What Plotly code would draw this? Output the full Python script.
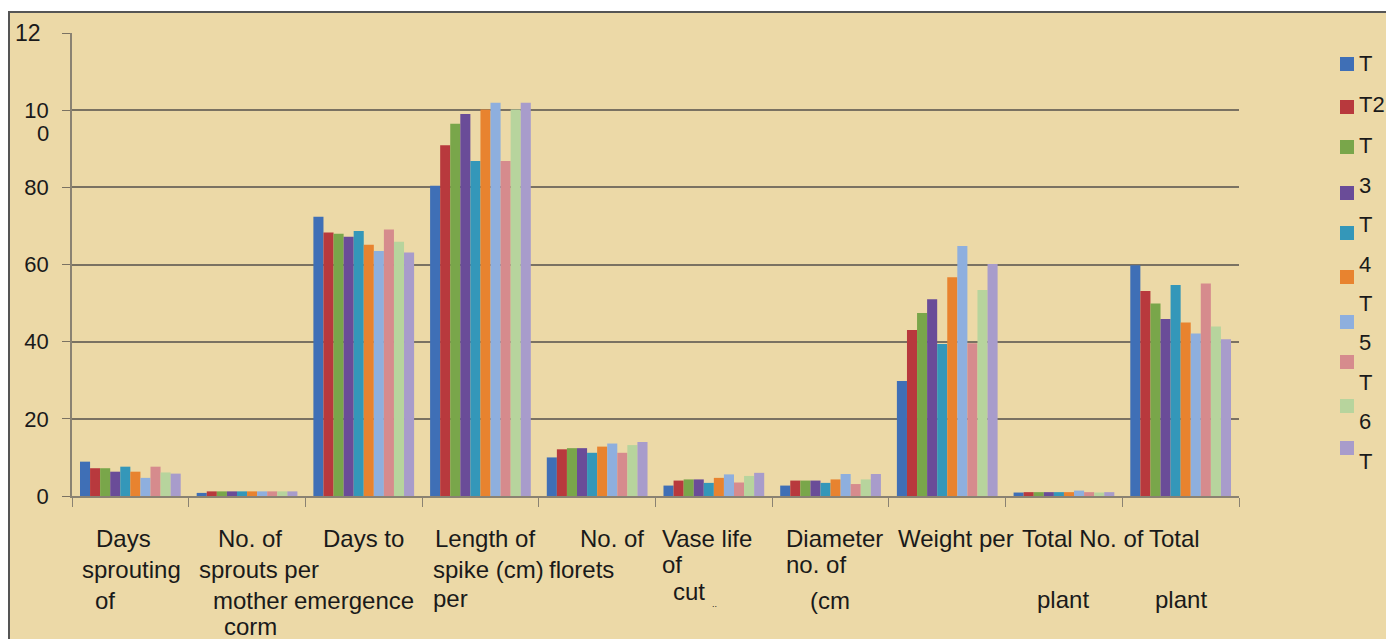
import plotly.graph_objects as go

categories = ["Days sprouting of", "No. of sprouts per mother corm", "Days to emergence",
              "Length of spike (cm) per", "No. of florets", "Vase life of cut",
              "Diameter no. of (cm", "Weight per", "Total No. of plant", "Total plant"]

series_names = ["T1", "T2", "T3", "T4", "T5", "T6", "T7", "T8", "T9", "T10"]
colors = ["#3f6fb6", "#b8393d", "#79a64a", "#6a4c98", "#3497b9", "#e8832f",
          "#8eafde", "#d68b8d", "#b7d49d", "#a89ccb"]

# values[series][category]
T1 = [8.9, 0.8, 72.4, 80.4, 10.0, 2.7, 2.7, 29.8, 0.9, 59.8]
T2 = [7.2, 1.2, 68.3, 90.9, 12.1, 4.0, 4.0, 43.0, 1.0, 53.1]
T3 = [7.2, 1.2, 68.0, 96.5, 12.4, 4.3, 4.0, 47.4, 1.0, 49.9]
T4 = [6.3, 1.2, 67.2, 99.0, 12.4, 4.3, 4.0, 51.0, 1.0, 45.9]
T5 = [7.6, 1.2, 68.7, 86.8, 11.2, 3.4, 3.4, 39.4, 1.0, 54.7]
T6 = [6.3, 1.2, 65.1, 100.2, 12.8, 4.7, 4.3, 56.7, 1.0, 45.0]
T7 = [4.7, 1.2, 63.5, 101.9, 13.6, 5.6, 5.7, 64.8, 1.4, 42.1]
T8 = [7.6, 1.2, 69.1, 86.8, 11.2, 3.5, 3.1, 39.6, 1.0, 55.1]
T9 = [6.1, 1.2, 65.9, 100.2, 13.2, 5.2, 4.3, 53.4, 0.9, 43.9]
T10 = [5.8, 1.2, 63.1, 101.9, 14.0, 6.0, 5.7, 60.1, 1.0, 40.6]
values = [T1, T2, T3, T4, T5, T6, T7, T8, T9, T10]

y_tickvals = [0, 20, 40, 60, 80, 100, 120]
y_ticktext = ["0", "20", "40", "60", "80", "10", ""]

# broken category labels as they appear (text, left px, center px)
x_label_lines = [
    ("Days", 94, 538), ("sprouting", 80, 569), ("of", 93, 600),
    ("No. of", 216, 538), ("sprouts per", 197, 569), ("mother", 211, 600), ("corm", 222, 626),
    ("Days to", 321, 538), ("emergence", 292, 600),
    ("Length of", 433, 538), ("spike (cm)", 431, 569), ("per", 431, 598),
    ("No. of", 578, 538), ("florets", 547, 569),
    ("Vase life", 660, 538), ("of", 660, 564), ("cut", 671, 591),
    ("Diameter", 784, 538), ("no. of", 784, 564), ("(cm", 808, 600),
    ("Weight per", 896, 538),
    ("Total No. of", 1020, 538), ("plant", 1035, 599),
    ("Total", 1147, 538), ("plant", 1153, 599),
]

legend_texts = [("T", 64), ("T2", 104), ("T", 145), ("3", 185), ("T", 224), ("4", 264),
                ("T", 303), ("5", 342), ("T", 382), ("6", 421), ("T", 461)]
legend_marker_y = [64, 107, 147, 193, 233, 277, 322, 362, 406, 448]

# screen geometry (page body has an 8px margin)
OFF = 8
W, H = 1394 - OFF, 639 - OFF
L, R, T, B = 72, 1239, 33, 496


def px(x):
    return (x - L) / (R - L)


def py(y):
    return (B - y) / (B - T)


fig = go.Figure()
for name, vals, col in zip(series_names, values, colors):
    fig.add_trace(go.Bar(x=categories, y=vals, name=name, marker_color=col,
                         marker_line_width=0, showlegend=False))

font = "Liberation Sans, Arial, sans-serif"
shapes = [
    dict(type="rect", xref="paper", yref="paper", x0=px(9), x1=px(1400), y0=py(12), y1=py(645),
         fillcolor="#ecd9a7", line=dict(color="#555555", width=2), layer="below"),
]
annotations = []
for text, x, y in x_label_lines:
    annotations.append(dict(text=text, xref="paper", yref="paper", x=px(x), y=py(y),
                            xanchor="left", yanchor="middle", showarrow=False,
                            font=dict(family=font, size=24, color="#1a1a1a")))
annotations.append(dict(text="..", xref="paper", yref="paper", x=px(710), y=py(604),
                        xanchor="left", yanchor="middle", showarrow=False,
                        font=dict(family=font, size=9, color="#1a1a1a")))
annotations.append(dict(text="12", xref="paper", yref="paper", x=px(13), y=py(33),
                        xanchor="left", yanchor="middle", showarrow=False,
                        font=dict(family=font, size=23, color="#1a1a1a")))
annotations.append(dict(text="0", xref="paper", yref="paper", x=px(51), y=py(133),
                        xanchor="right", yanchor="middle", showarrow=False,
                        font=dict(family=font, size=22, color="#1a1a1a")))
for col, y in zip(colors, legend_marker_y):
    shapes.append(dict(type="rect", xref="paper", yref="paper", x0=px(1340), x1=px(1354),
                       y0=py(y - 7), y1=py(y + 7), fillcolor=col, line_width=0))
for text, y in legend_texts:
    annotations.append(dict(text=text, xref="paper", yref="paper", x=px(1357), y=py(y),
                            xanchor="left", yanchor="middle", showarrow=False,
                            font=dict(family=font, size=22, color="#1a1a1a")))

fig.update_layout(
    width=W, height=H,
    margin=dict(l=L - OFF, r=(W + OFF) - R, t=T - OFF, b=(H + OFF) - B, pad=0),
    paper_bgcolor="white", plot_bgcolor="rgba(0,0,0,0)",
    barmode="group", bargap=0.137, bargroupgap=0,
    shapes=shapes, annotations=annotations,
    xaxis=dict(showticklabels=False, tickson="boundaries", ticks="outside", ticklen=9,
               tickcolor="#8a8272", showline=True, linecolor="#8a8272", linewidth=1.5,
               showgrid=False),
    yaxis=dict(range=[0, 120], tickvals=y_tickvals, ticktext=y_ticktext, ticks="outside",
               ticklen=8, tickcolor="#7a7262", showline=True, linecolor="#8a8272", linewidth=1.5,
               gridcolor="#7a7262", gridwidth=1.5, zeroline=False,
               tickfont=dict(family=font, size=22, color="#1a1a1a"), ticklabelstandoff=9),
)

fig.write_html("out.html")
